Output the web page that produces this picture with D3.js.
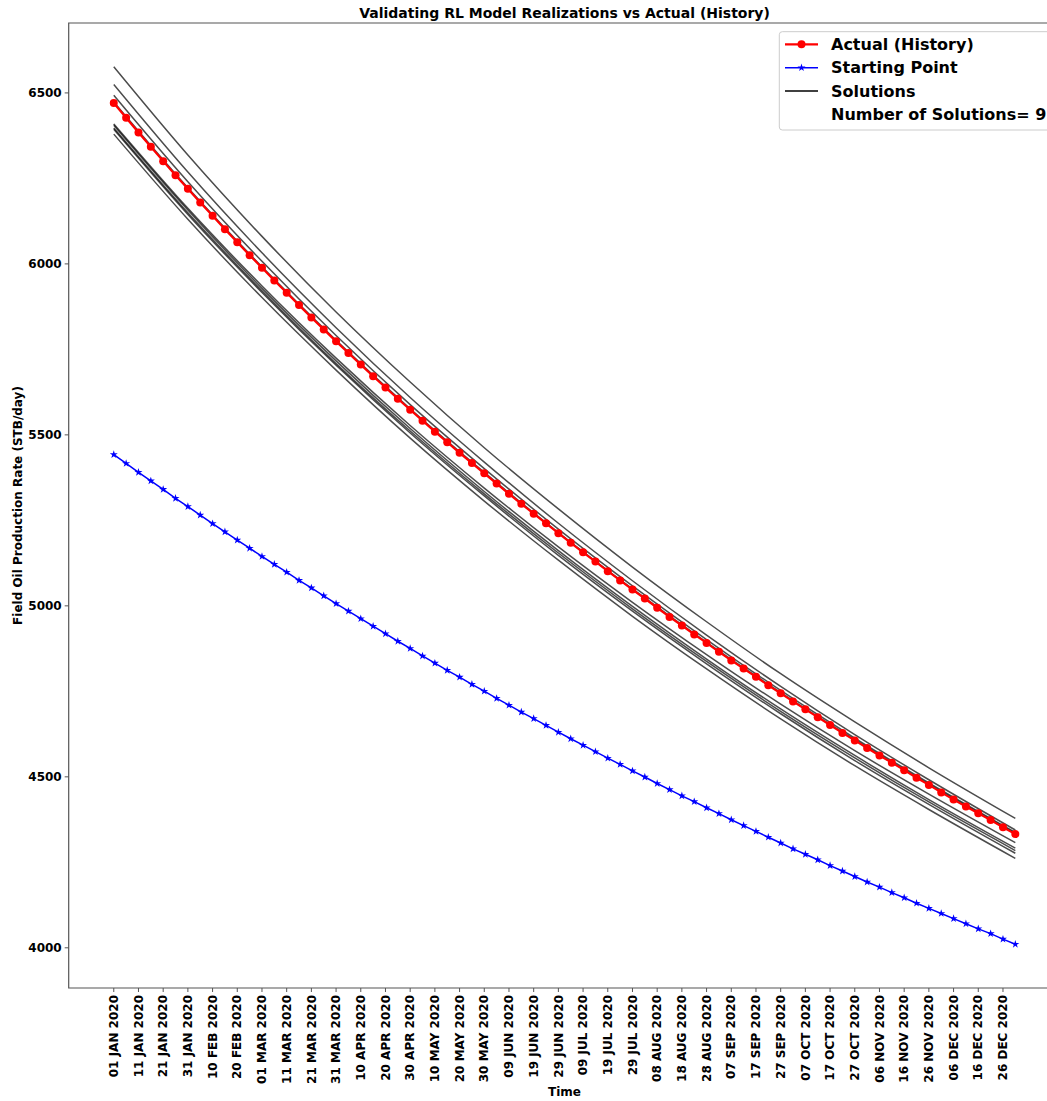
<!DOCTYPE html>
<html><head><meta charset="utf-8">
<script src="https://cdn.jsdelivr.net/npm/d3@7"></script>
<style>
body{margin:0;background:#fff}
svg{display:block}
text{font-family:"DejaVu Sans",sans-serif;font-weight:bold;fill:#000}
</style>
</head><body>
<svg id="chart" width="1047" height="1101"></svg>
<script>
// ---------- data ----------
const tickLabels = ["01 JAN 2020","11 JAN 2020","21 JAN 2020","31 JAN 2020","10 FEB 2020","20 FEB 2020","01 MAR 2020","11 MAR 2020","21 MAR 2020","31 MAR 2020","10 APR 2020","20 APR 2020","30 APR 2020","10 MAY 2020","20 MAY 2020","30 MAY 2020","09 JUN 2020","19 JUN 2020","29 JUN 2020","09 JUL 2020","19 JUL 2020","29 JUL 2020","08 AUG 2020","18 AUG 2020","28 AUG 2020","07 SEP 2020","17 SEP 2020","27 SEP 2020","07 OCT 2020","17 OCT 2020","27 OCT 2020","06 NOV 2020","16 NOV 2020","26 NOV 2020","06 DEC 2020","16 DEC 2020","26 DEC 2020"];
const yTicks = [4000, 4500, 5000, 5500, 6000, 6500];

// Actual (History), one value every 5 days from 01 JAN 2020
const actual = [6469,6426,6383,6341,6299,6258,6218,6178,6139,6100,
  6062,6024,5987,5950,5914,5878,5842,5807,5772,5738,
  5704,5670,5637,5604,5572,5540,5508,5477,5446,5416,
  5386,5356,5326,5297,5268,5240,5211,5183,5155,5128,
  5100,5073,5046,5020,4993,4966,4941,4915,4890,4864,
  4839,4815,4791,4766,4743,4719,4696,4673,4650,4627,
  4605,4583,4561,4540,4518,4496,4475,4453,4432,4412,
  4392,4372,4351,4331];

// Starting Point, one value every 5 days from 01 JAN 2020
const startingPoint = [5441,5415,5389,5364,5339,5313,5289,5264,5239,5215,
  5191,5167,5143,5120,5097,5073,5051,5028,5005,4983,
  4961,4939,4917,4895,4874,4852,4831,4810,4790,4769,
  4749,4728,4708,4688,4669,4649,4629,4610,4591,4572,
  4553,4535,4516,4498,4479,4461,4443,4426,4408,4391,
  4373,4356,4339,4322,4305,4288,4272,4256,4239,4223,
  4207,4191,4176,4160,4145,4129,4114,4099,4084,4069,
  4054,4040,4024,4009];

// Solutions, sampled at these day offsets from 01 JAN 2020
const solutionDays = [0,30,60,90,120,150,180,210,240,270,300,330,365];
const solution1 = [6575,6317,6079,5858,5653,5461,5282,5112,4952,4800,4659,4525,4377];
const solution2 = [6523,6267,6031,5812,5608,5419,5240,5072,4913,4763,4622,4490,4343];
const solution3 = [6492,6239,6006,5789,5587,5400,5223,5057,4900,4751,4612,4481,4336];
const solution4 = [6472,6221,5990,5775,5575,5389,5213,5048,4892,4745,4607,4477,4333];
const solution5 = [6408,6161,5934,5723,5526,5343,5171,5009,4856,4711,4575,4448,4306];
const solution6 = [6404,6156,5927,5715,5517,5333,5160,4997,4843,4697,4561,4432,4290];
const solution7 = [6396,6148,5920,5707,5510,5326,5153,4990,4836,4690,4554,4425,4283];
const solution8 = [6392,6143,5915,5702,5504,5320,5146,4983,4829,4683,4546,4418,4275];
const solution9 = [6378,6129,5900,5688,5489,5305,5132,4968,4814,4668,4531,4403,4260];
const solutions = [solution1,solution2,solution3,solution4,solution5,solution6,solution7,solution8,solution9];

const legendLabels = ["Actual (History)", "Starting Point", "Solutions", "Number of Solutions= " + solutions.length];
const titleText = "Validating RL Model Realizations vs Actual (History)";
const xLabel = "Time";
const yLabel = "Field Oil Production Rate (STB/day)";

// ---------- layout ----------
const svg = d3.select("#chart");
const plot = {left: 68.7, right: 1060.4, top: 23, bottom: 988};
const DAY = 864e5;
const t0 = Date.UTC(2020, 0, 1);
const dayDate = d => new Date(t0 + d * DAY);

const x = d3.scaleUtc()
  .domain([dayDate(-18.25), dayDate(383.25)])
  .range([plot.left, plot.right]);
const y = d3.scaleLinear()
  .domain([3881, 6703])
  .range([plot.bottom, plot.top]);

const dates = actual.map((_, i) => d3.utcDay.offset(new Date(t0), 5 * i));
const parseTick = d3.utcParse("%d %b %Y");
const tickDates = tickLabels.map(parseTick);

svg.append("defs").append("clipPath").attr("id", "clip")
  .append("rect").attr("x", plot.left).attr("y", plot.top)
  .attr("width", plot.right - plot.left).attr("height", plot.bottom - plot.top);

const g = svg.append("g").attr("clip-path", "url(#clip)");

// solutions
const solLine = d3.line()
  .x((d, i) => x(dayDate(solutionDays[i])))
  .y(d => y(d))
  .curve(d3.curveMonotoneX);
g.selectAll("path.sol").data(solutions).join("path")
  .attr("class", "sol")
  .attr("d", solLine)
  .attr("fill", "none")
  .attr("stroke", "#000")
  .attr("stroke-opacity", 0.7)
  .attr("stroke-width", 1.5);

// starting point
const line = d3.line().x((d, i) => x(dates[i])).y(d => y(d));
g.append("path").datum(startingPoint)
  .attr("d", line).attr("fill", "none")
  .attr("stroke", "#0000ff").attr("stroke-width", 1.5);
const star = d3.symbol().type(d3.symbolStar).size(20);
g.selectAll("path.star").data(startingPoint).join("path")
  .attr("class", "star")
  .attr("d", star)
  .attr("transform", (d, i) => `translate(${x(dates[i])},${y(d)})`)
  .attr("fill", "#0000ff");

// actual
g.append("path").datum(actual)
  .attr("d", line).attr("fill", "none")
  .attr("stroke", "#ff0000").attr("stroke-width", 2.2);
g.selectAll("circle.act").data(actual).join("circle")
  .attr("class", "act")
  .attr("cx", (d, i) => x(dates[i]))
  .attr("cy", d => y(d))
  .attr("r", 4)
  .attr("fill", "#ff0000");

// ---------- axes ----------
const axisColor = "#555";
svg.append("path")
  .attr("d", `M${plot.right},${plot.top}H${plot.left}V${plot.bottom}H${plot.right}`)
  .attr("fill", "none").attr("stroke", axisColor).attr("stroke-width", 1.2);

const yAxis = svg.append("g").attr("transform", `translate(${plot.left},0)`)
  .call(d3.axisLeft(y).tickValues(yTicks).tickSize(4).tickPadding(3).tickFormat(d3.format("d")));
yAxis.select(".domain").remove();
yAxis.selectAll(".tick line").attr("stroke", axisColor);
yAxis.selectAll("text").style("font-size", "12px").style("font-weight", "bold")
  .style("font-family", '"DejaVu Sans", sans-serif').attr("fill", "#000");

const xAxis = svg.append("g").attr("transform", `translate(0,${plot.bottom})`);
const xt = xAxis.selectAll("g.xt").data(tickDates).join("g").attr("class", "xt")
  .attr("transform", d => `translate(${x(d)},0)`);
xt.append("line").attr("y2", 4).attr("stroke", axisColor);
xt.append("text")
  .attr("transform", "translate(0,7) rotate(-90)")
  .attr("text-anchor", "end")
  .attr("dy", "0.35em")
  .style("font-size", "12px")
  .text((d, i) => tickLabels[i]);

// labels
svg.append("text").attr("x", (plot.left + plot.right) / 2).attr("y", 18)
  .attr("text-anchor", "middle").style("font-size", "14px").text(titleText);
svg.append("text").attr("x", (plot.left + plot.right) / 2).attr("y", 1096)
  .attr("text-anchor", "middle").style("font-size", "12px").text(xLabel);
svg.append("text")
  .attr("transform", `translate(18,${(plot.top + plot.bottom) / 2}) rotate(-90)`)
  .attr("text-anchor", "middle").attr("dy", "0.35em")
  .style("font-size", "12px").text(yLabel);

// ---------- legend ----------
const lg = svg.append("g");
lg.append("rect").attr("x", 779.3).attr("y", 31.7).attr("width", 300).attr("height", 98.3)
  .attr("rx", 3).attr("fill", "#fff").attr("fill-opacity", 0.8)
  .attr("stroke", "#ccc").attr("stroke-width", 1);
const rowY = [44.3, 67.7, 91, 114.3];
const hx0 = 785, hx1 = 818, hxm = (hx0 + hx1) / 2;
lg.append("line").attr("x1", hx0).attr("x2", hx1).attr("y1", rowY[0]).attr("y2", rowY[0])
  .attr("stroke", "#ff0000").attr("stroke-width", 2.2);
lg.append("circle").attr("cx", hxm).attr("cy", rowY[0]).attr("r", 4).attr("fill", "#ff0000");
lg.append("line").attr("x1", hx0).attr("x2", hx1).attr("y1", rowY[1]).attr("y2", rowY[1])
  .attr("stroke", "#0000ff").attr("stroke-width", 1.5);
lg.append("path").attr("d", star).attr("transform", `translate(${hxm},${rowY[1]})`).attr("fill", "#0000ff");
lg.append("line").attr("x1", hx0).attr("x2", hx1).attr("y1", rowY[2]).attr("y2", rowY[2])
  .attr("stroke", "#000").attr("stroke-width", 1.5);
lg.selectAll("text.lt").data(legendLabels).join("text").attr("class", "lt")
  .attr("x", 831).attr("y", (d, i) => rowY[i]).attr("dy", "0.36em")
  .style("font-size", "16px").text(d => d);
</script>
</body></html>
